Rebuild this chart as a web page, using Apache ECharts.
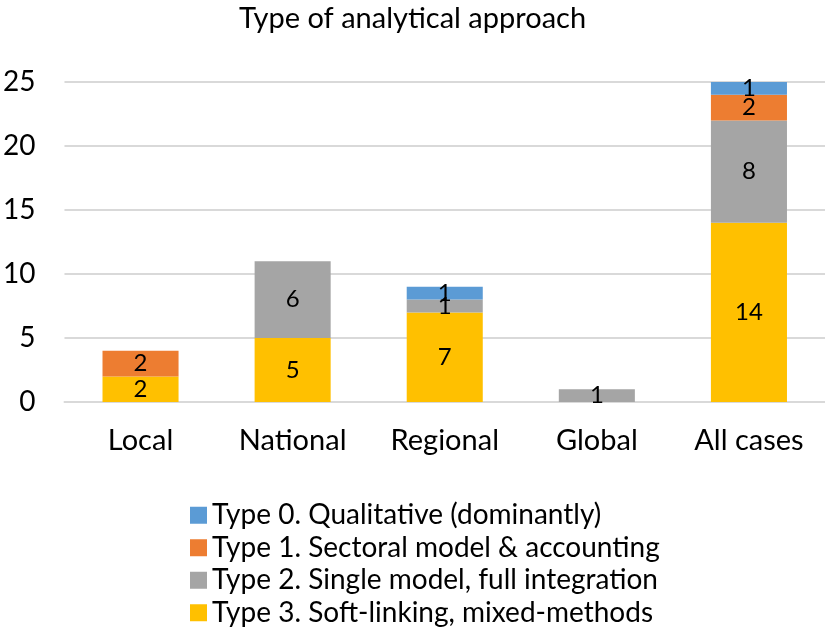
<!DOCTYPE html>
<html>
<head>
<meta charset="utf-8">
<script src="https://cdn.jsdelivr.net/npm/echarts@6/dist/echarts.min.js"></script>
<style>
html,body{margin:0;padding:0;background:#fff;}
#main{width:825px;height:644px;}
</style>
</head>
<body>
<div id="main"></div>
<script>
const categories = ['Local', 'National', 'Regional', 'Global', 'All cases'];
const type0 = [null, null, 1, null, 1];
const type1 = [2, null, null, null, 2];
const type2 = [null, 6, 1, 1, 8];
const type3 = [2, 5, 7, null, 14];
const seriesNames = [
  'Type 0. Qualitative (dominantly)',
  'Type 1. Sectoral model & accounting',
  'Type 2. Single model, full integration',
  'Type 3. Soft-linking, mixed-methods'
];
const colors = ['#5B9BD5', '#ED7D31', '#A5A5A5', '#FFC000'];
const yTicks = [0, 5, 10, 15, 20, 25];

const FONT = 'Lato';
const chart = echarts.init(document.getElementById('main'), null, {renderer: 'canvas'});

function mk(name, data, color) {
  return {
    name: name,
    type: 'bar',
    stack: 'total',
    data: data,
    barWidth: '50%',
    itemStyle: {color: color},
    label: {
      show: true,
      position: 'inside',
      color: '#000',
      fontFamily: FONT,
      fontSize: 24,
      formatter: p => (p.value == null ? '' : String(p.value))
    }
  };
}

chart.setOption({
  animation: false,
  title: {
    text: 'Type of analytical approach',
    left: 'center',
    top: -1,
    textStyle: {fontFamily: FONT, fontSize: 29, fontWeight: 'normal', color: '#000'}
  },
  grid: {left: 58, right: 0, top: 82, bottom: 242, containLabel: false},
  legend: {
    orient: 'vertical',
    left: 185,
    top: 496,
    itemWidth: 17,
    itemHeight: 17,
    itemGap: 4,
    icon: 'rect',
    data: seriesNames,
    textStyle: {fontFamily: FONT, fontSize: 28, color: '#000', lineHeight: 28.5}
  },
  xAxis: {
    type: 'category',
    data: categories,
    axisLine: {show: true, lineStyle: {color: '#D9D9D9', width: 2}},
    axisTick: {show: false},
    axisLabel: {fontFamily: FONT, fontSize: 29, color: '#000', margin: 24}
  },
  yAxis: {
    type: 'value',
    min: yTicks[0],
    max: yTicks[yTicks.length - 1],
    interval: 5,
    axisLine: {show: false},
    axisTick: {show: false},
    splitLine: {lineStyle: {color: '#D9D9D9', width: 2}},
    axisLabel: {fontFamily: FONT, fontSize: 28, color: '#000', margin: 29}
  },
  series: [
    mk(seriesNames[3], type3, colors[3]),
    mk(seriesNames[2], type2, colors[2]),
    mk(seriesNames[1], type1, colors[1]),
    mk(seriesNames[0], type0, colors[0])
  ]
});
</script>
</body>
</html>
